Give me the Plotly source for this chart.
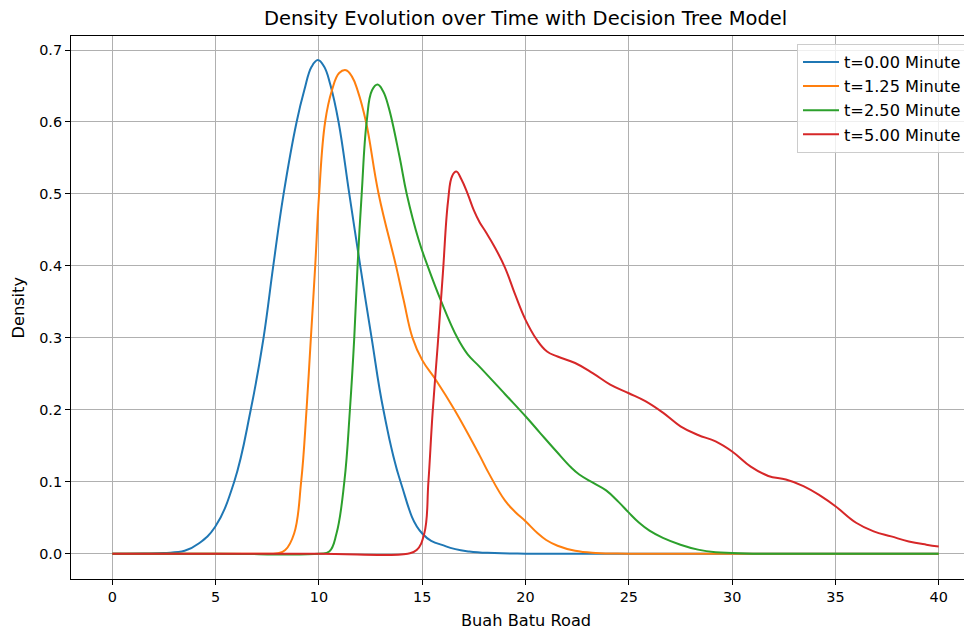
import plotly.graph_objects as go

# ---- data ----
series_names = ["t=0.00 Minute", "t=1.25 Minute", "t=2.50 Minute", "t=5.00 Minute"]
series_colors = ["#1f77b4", "#ff7f0e", "#2ca02c", "#d62728"]

blue_x = [0, 1.5, 2.5, 3.5, 4.2, 4.98, 5.9, 6.7, 7.32, 7.79, 8.29, 8.92, 9.29, 9.65,
          9.95, 10.25, 10.55, 10.95, 11.47, 12.0, 12.55, 13.12, 13.95, 15.0, 16.15,
          17.28, 18.5, 20, 30, 40]
blue_y = [0, 0.0002, 0.001, 0.004, 0.0145, 0.0375, 0.1, 0.2, 0.3, 0.4, 0.5, 0.6,
          0.644, 0.677, 0.686, 0.677, 0.652, 0.6, 0.5, 0.4, 0.3, 0.2, 0.1, 0.028,
          0.0102, 0.003, 0.0008, 0, 0, 0]

orange_x = [0, 5, 7.5, 8.0, 8.37, 8.8, 9.14, 9.4, 9.61, 9.82, 10.01, 10.3, 10.63,
            10.98, 11.31, 11.6, 11.87, 12.28, 12.89, 13.73, 14.1, 14.53, 15.0, 15.67,
            16.56, 17.77, 18.2, 19.0, 19.5, 20.0, 20.6, 21.0, 21.55, 22.4, 23.4,
            25, 32, 40]
orange_y = [0, 0, 0, 0.0005, 0.005, 0.028, 0.1, 0.2, 0.3, 0.4, 0.5, 0.6, 0.644,
            0.668, 0.672, 0.663, 0.644, 0.6, 0.5, 0.4, 0.3525, 0.3, 0.269, 0.241, 0.2,
            0.137, 0.113, 0.074, 0.058, 0.045, 0.028, 0.019, 0.011, 0.004, 0.001,
            0, 0, 0]

green_x = [0, 5, 10.0, 10.5, 10.85, 11.23, 11.5, 11.71, 11.87, 12.07, 12.31,
           12.57, 12.84, 13.1, 13.37, 13.9, 14.25, 14.83, 15.26, 15.9, 16.7, 17.2,
           17.77, 19.0, 20.0, 20.7, 21.5, 22.2, 22.6, 23.3, 23.9, 24.5, 25.0,
           25.5, 26.0, 26.65, 27.5, 28.35, 29.2, 30, 31, 35, 40]
green_y = [0, 0, 0, 0.003, 0.028, 0.1, 0.2, 0.3, 0.4, 0.5, 0.6, 0.644, 0.652,
           0.643, 0.621, 0.552, 0.5, 0.436, 0.4, 0.352, 0.3, 0.277, 0.26, 0.222,
           0.191, 0.168, 0.142, 0.12, 0.11, 0.098, 0.088, 0.072, 0.057, 0.043,
           0.032, 0.022, 0.0125, 0.0056, 0.002, 0.001, 0, 0, 0]

red_x = [0, 5, 10, 14.3, 14.73, 15.1, 15.3, 15.5, 15.75, 16.0, 16.25, 16.45,
         16.65, 16.9, 17.2, 17.5, 17.77, 18.1, 18.49, 19.0, 19.5, 20.0, 20.53, 21.04,
         21.55, 22.4, 23.25, 24.1, 25.0, 25.8, 26.65, 27.5, 28.35, 29.2, 30.0,
         30.9, 31.75, 32.6, 33.45, 34.3, 35.0, 36.0, 36.85, 37.7, 38.55, 39.4,
         40.0]
red_y = [0, 0, 0, 0, 0.005, 0.028, 0.1, 0.195, 0.29, 0.39, 0.49, 0.525, 0.531,
         0.52, 0.5, 0.477, 0.461, 0.446, 0.427, 0.398, 0.36, 0.325, 0.298, 0.281,
         0.274, 0.265, 0.251, 0.235, 0.223, 0.212, 0.196, 0.177, 0.165, 0.156,
         0.142, 0.121, 0.108, 0.103, 0.094, 0.080, 0.066, 0.043, 0.031, 0.024,
         0.017, 0.0125, 0.010]

x_tick_vals = [0, 5, 10, 15, 20, 25, 30, 35, 40]
y_tick_vals = [0.0, 0.1, 0.2, 0.3, 0.4, 0.5, 0.6, 0.7]

title_text = "Density Evolution over Time with Decision Tree Model"
x_label = "Buah Batu Road"
y_label = "Density"

# ---- figure ----
xs = [blue_x, orange_x, green_x, red_x]
ys = [blue_y, orange_y, green_y, red_y]

FONT = "DejaVu Sans"
FS_TICK = 14.4
FS_LEG = 16.2
FS_LAB = 16.2
fig = go.Figure()
for i in range(4):
    fig.add_trace(go.Scatter(
        x=xs[i], y=ys[i], mode="lines", name=series_names[i],
        line=dict(color=series_colors[i], width=2, shape="spline", smoothing=1.2),
        legendgroup=str(i),
    ))

OFF = 8                      # page body margin of the html page
WIN_W, WIN_H = 972, 632
PL, PR, PT, PB = 71, 972, 36, 579   # plot area in window pixels
W, H = WIN_W - OFF, WIN_H - OFF
L, T = PL - OFF, PT - OFF
R = W - (PR - OFF)
B = H - (PB - OFF)
pw = PR - PL
ph = PB - PT


def px_x(p):
    return (p - PL) / pw


def px_y(p):
    return (PB - p) / ph


fig.update_layout(
    width=W, height=H,
    margin=dict(l=L, r=R, t=T, b=B, pad=0),
    paper_bgcolor="white", plot_bgcolor="white",
    font=dict(family=FONT, size=FS_TICK, color="black"),
    showlegend=True,
    legend=dict(
        x=px_x(797), y=px_y(44), xanchor="left", yanchor="top",
        bgcolor="rgba(255,255,255,0.8)", bordercolor="#cccccc", borderwidth=1,
        font=dict(family=FONT, size=FS_LEG, color="black"),
        tracegroupgap=0, itemwidth=36,
    ),
    xaxis=dict(
        range=[-2, 41.61], tickvals=x_tick_vals, ticktext=[str(v) for v in x_tick_vals],
        showgrid=True, gridcolor="#b0b0b0", gridwidth=1,
        zeroline=False, showline=True, linecolor="black", linewidth=1, mirror=True,
        ticks="outside", ticklen=5, tickwidth=1, tickcolor="black",
        tickfont=dict(family=FONT, size=FS_TICK, color="black"),
    ),
    yaxis=dict(
        range=[-0.0352, 0.7195], tickvals=y_tick_vals,
        ticktext=["%.1f" % v for v in y_tick_vals],
        showgrid=True, gridcolor="#b0b0b0", gridwidth=1,
        zeroline=False, showline=True, linecolor="black", linewidth=1, mirror=False,
        ticks="outside", ticklen=5, tickwidth=1, tickcolor="black",
        tickfont=dict(family=FONT, size=FS_TICK, color="black"),
    ),
    annotations=[
        dict(text=title_text, xref="paper", yref="paper",
             x=px_x(525.5), y=px_y(18), xanchor="center", yanchor="middle",
             showarrow=False, font=dict(family=FONT, size=19.5, color="black")),
        dict(text=x_label, xref="paper", yref="paper",
             x=px_x(525.5), y=px_y(620), xanchor="center", yanchor="middle",
             showarrow=False, font=dict(family=FONT, size=FS_LAB, color="black")),
        dict(text=y_label, xref="paper", yref="paper", textangle=-90,
             x=px_x(18), y=px_y(307.5), xanchor="center", yanchor="middle",
             showarrow=False, font=dict(family=FONT, size=FS_LAB, color="black")),
    ],
)

fig.write_html("out.html")
